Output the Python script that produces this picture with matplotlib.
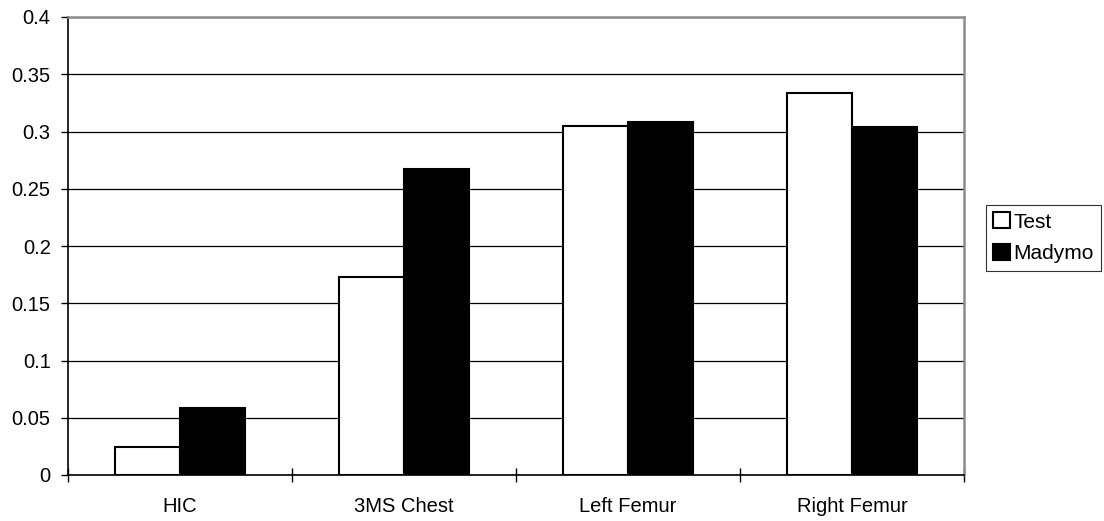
import matplotlib
matplotlib.use("Agg")
import matplotlib.pyplot as plt
import numpy as np
from matplotlib.patches import Patch

categories = ["HIC", "3MS Chest", "Left Femur", "Right Femur"]
test_vals = [0.0245, 0.173, 0.305, 0.334]
madymo_vals = [0.0585, 0.267, 0.308, 0.304]
yticks = [0, 0.05, 0.1, 0.15, 0.2, 0.25, 0.3, 0.35, 0.4]
ytick_labels = ["0", "0.05", "0.1", "0.15", "0.2", "0.25", "0.3", "0.35", "0.4"]

plt.rcParams['font.family'] = ['Liberation Sans', 'DejaVu Sans']

fig = plt.figure(figsize=(11.04, 5.21), dpi=100)
ax = fig.add_axes([68/1104, 46/521, (964-68)/1104, (475-17)/521])

x = np.arange(len(categories))
w = 0.29
ax.bar(x - w/2, test_vals, width=w, color='white', edgecolor='black', linewidth=1.5, zorder=3)
ax.bar(x + w/2, madymo_vals, width=w, color='black', edgecolor='black', linewidth=1.5, zorder=3)

ax.set_xlim(-0.5, 3.5)
ax.set_ylim(0, 0.4)
ax.set_yticks(yticks)
ax.set_yticklabels(ytick_labels, fontsize=14.5)
ax.yaxis.grid(True, color='black', linewidth=0.9, zorder=0)
ax.set_axisbelow(True)

ax.set_xticks(x)
ax.set_xticklabels(categories, fontsize=14.5)
ax.tick_params(axis='x', which='major', length=0, pad=16)
ax.set_xticks(np.arange(-0.5, 4.0, 1.0), minor=True)
ax.tick_params(axis='x', which='minor', direction='inout', length=10, width=1, color='black')
ax.tick_params(axis='y', direction='out', length=5, width=1, pad=7.5)

for s in ['top', 'right']:
    ax.spines[s].set_color('#8c8c8c')
    ax.spines[s].set_linewidth(1.8)
for s in ['left', 'bottom']:
    ax.spines[s].set_color('black')
    ax.spines[s].set_linewidth(1.2)

handles = [Patch(facecolor='white', edgecolor='black', linewidth=1.5),
           Patch(facecolor='black', edgecolor='black', linewidth=1.5)]
leg = fig.legend(handles, ["Test", "Madymo"], loc='upper left',
                 bbox_to_anchor=(986/1104, 1 - 205/521), fontsize=15,
                 handlelength=0.8, handleheight=0.8, handletextpad=0.15,
                 borderpad=0.35, labelspacing=0.6, frameon=True, fancybox=False,
                 borderaxespad=0)
leg.get_frame().set_edgecolor('black')
leg.get_frame().set_linewidth(0.8)

fig.savefig("out.png", dpi=100)
